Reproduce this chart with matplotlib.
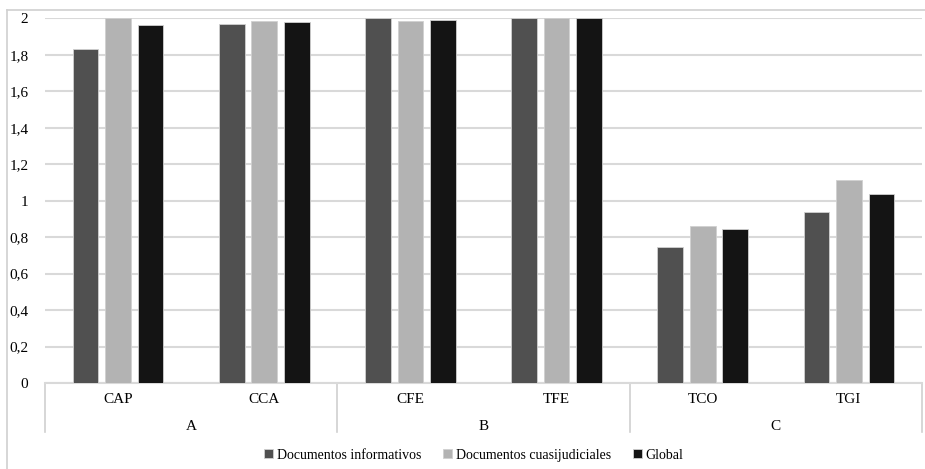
import numpy as np
import matplotlib.pyplot as plt
from matplotlib.lines import Line2D
from matplotlib.ticker import FuncFormatter

categorias = ["CAP", "CCA", "CFE", "TFE", "TCO", "TGI"]
grupos = ["A", "B", "C"]
informativos = [1.833, 1.969, 2.0, 2.0, 0.747, 0.94]
cuasijudiciales = [2.0, 1.987, 1.987, 2.0, 0.863, 1.111]
global_ = [1.963, 1.98, 1.989, 2.0, 0.842, 1.035]

plt.rcParams["font.family"] = ["Liberation Serif", "DejaVu Serif"]

fig = plt.figure(figsize=(9.25, 4.69), dpi=100)
ax = fig.add_axes([45 / 925, 86 / 469, 877 / 925, 364.7 / 469])

x = np.arange(len(categorias))
paso = 0.2226
ancho = 0.175
series = [
    (informativos, "Documentos informativos", "#505050"),
    (cuasijudiciales, "Documentos cuasijudiciales", "#b3b3b3"),
    (global_, "Global", "#141414"),
]
for i, (vals, nombre, color) in enumerate(series):
    ax.bar(x + (i - 1) * paso, vals, ancho, color=color, label=nombre,
           edgecolor="#d0d0d0", linewidth=0.6, zorder=3)


def coma(v, pos):
    if abs(v - round(v)) < 1e-9:
        return str(int(round(v)))
    return f"{v:.1f}".replace(".", ",")


ax.set_ylim(0, 2)
ax.set_xlim(-0.5, 5.5)
ax.set_yticks(np.arange(0, 2.01, 0.2))
ax.yaxis.set_major_formatter(FuncFormatter(coma))
ax.tick_params(axis="y", length=0, pad=12, labelsize=11)
ax.tick_params(axis="x", length=0, labelbottom=False)
ax.grid(axis="y", color="#d9d9d9", linewidth=1.5, zorder=0)
for s in ["top", "right", "left"]:
    ax.spines[s].set_visible(False)
ax.spines["bottom"].set_color("#d9d9d9")
ax.spines["bottom"].set_linewidth(1.5)

# etiquetas de dos niveles
trans = ax.get_xaxis_transform()
for xi, c in zip(x, categorias):
    ax.text(xi, -0.044, c, transform=trans, ha="center", va="center", fontsize=11)
for gi, g in enumerate(grupos):
    ax.text(gi * 2 + 0.5, -0.118, g, transform=trans, ha="center", va="center", fontsize=11)
for b in [-0.5, 1.5, 3.5, 5.5]:
    ax.plot([b, b], [0, -0.134], transform=trans, color="#d0d0d0", linewidth=1.2, clip_on=False)

leg = fig.legend(loc="center", bbox_to_anchor=(474 / 925, 1 - 455 / 469), ncol=3, frameon=False,
                 fontsize=10, handlelength=0.6, handleheight=0.6, handletextpad=0.3,
                 columnspacing=1.6)

# borde del gráfico
fig.add_artist(Line2D([7 / 925, 1], [1 - 10 / 469, 1 - 10 / 469], color="#d0d0d0", linewidth=1.2))
fig.add_artist(Line2D([7 / 925, 7 / 925], [0, 1 - 10 / 469], color="#d0d0d0", linewidth=1.2))

fig.savefig("out.png", dpi=100)
